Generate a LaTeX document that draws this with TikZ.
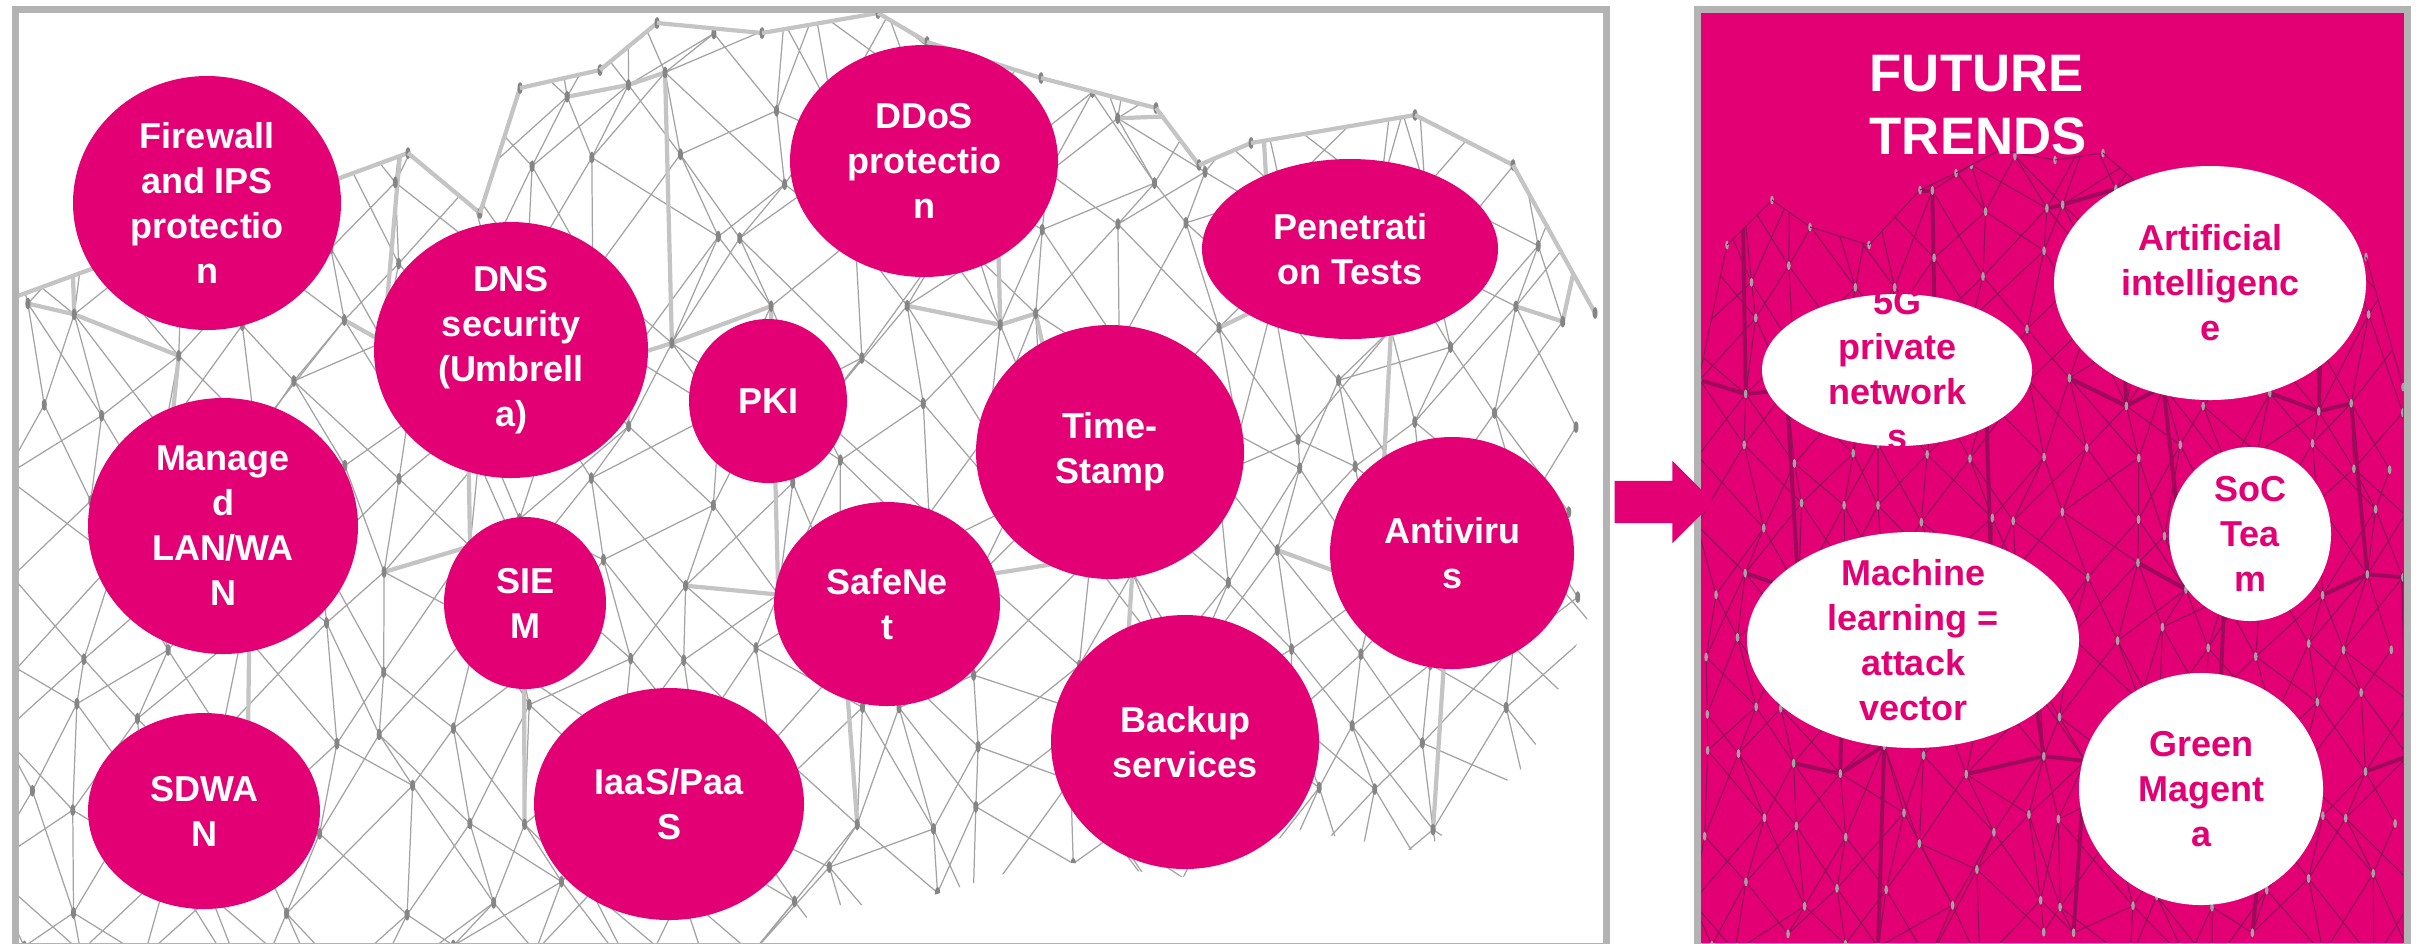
\documentclass[tikz,border=0pt]{standalone}
\usepackage{fontspec}
\setmainfont{Liberation Sans}
\usepackage{tikz}
\usepackage{xcolor}
\usetikzlibrary{shapes.geometric}
\usetikzlibrary{shapes.arrows}
\usetikzlibrary{positioning}

\definecolor{tmagenta}{HTML}{E20074}
\definecolor{panelgray}{HTML}{B3B3B3}
\definecolor{meshgray}{HTML}{A3A3A3}
\definecolor{meshwide}{HTML}{C4C4C4}
\definecolor{dotgray}{HTML}{858585}
\definecolor{meshdark}{HTML}{8A1458}
\definecolor{meshdarkwide}{HTML}{9C0A5C}

\begin{document}
\begin{tikzpicture}[x=1cm,y=-1cm,
	panelline/.style={draw=panelgray,line width=0.07cm},
	meshthin/.style={draw=meshgray,line width=0.35pt},
	meshthick/.style={draw=meshwide,line width=1.2pt},
	meshdot/.style={fill=dotgray},
	darkthin/.style={draw=meshdark,line width=0.3pt},
	darkthick/.style={draw=meshdarkwide,line width=1.1pt},
	darkdot/.style={fill=meshgray},
	bubble/.style={ellipse,fill=tmagenta,inner sep=0pt},
	wbubble/.style={ellipse,fill=white,inner sep=0pt},
	bubtext/.style={text=white,align=center,inner sep=0pt,font=\bfseries\fontsize{10.24pt}{12.8pt}\selectfont},
	wbubtext/.style={bubtext,text=tmagenta}]
		
		% page size and background
		\useasboundingbox (0,0) rectangle (24.2,9.43);
		\fill[white] (0,0) rectangle (24.2,9.43);
		
		% draw background for the trends panel
		\fill[tmagenta] (16.97,0.09) rectangle (24.07,9.46);
		
		\pgfmathsetseed{2024}
		
		% draw mesh in left panel
		\foreach \i in {0,...,21}
		{
			\foreach \j in {0,...,12}
			{
				\pgfmathsetmacro\px{0.15+0.75*\i+0.3*rand}
				\pgfmathsetmacro\py{0.10+0.80*\j+0.3*rand}
				\coordinate (l-\i-\j) at (\px,\py);
			}
		}
		\foreach \x/\y [count=\n] in {0.15/2.97,4.08/1.53,4.80/2.13,5.20/0.88,6.00/0.70,6.57/0.23,7.62/0.33,8.78/0.13,9.27/0.42,10.41/0.78,11.56/1.08,11.99/1.65,12.51/1.43,14.15/1.15,15.13/1.65,15.95/3.13}
		{
			\coordinate (ltop-\n) at (\x,\y);
		}
		\begin{scope}
			\clip (0.15,2.97) -- (4.08,1.53) -- (4.80,2.13) -- (5.20,0.88) -- (6.00,0.70) -- (6.57,0.23) -- (7.62,0.33) -- (8.78,0.13) -- (9.27,0.42) -- (10.41,0.78) -- (11.56,1.08) -- (11.99,1.65) -- (12.51,1.43) -- (14.15,1.15) -- (15.13,1.65) -- (15.95,3.13) -- (15.95,6.00) -- (15.28,7.63) -- (14.22,8.52) -- (13.00,8.30) -- (11.83,8.77) -- (10.50,8.60) -- (9.00,9.05) -- (8.10,9.05) -- (8.00,9.43) -- (0.15,9.43) -- cycle;
			\foreach \i [count=\k] in {0,...,20}
			{
				\foreach \j [count=\l] in {0,...,11}
				{
					\draw[meshthin] (l-\i-\j) -- (l-\i-\l) (l-\i-\j) -- (l-\k-\l) (l-\k-\j) -- (l-\i-\l);
				}
			}
			\foreach \i [count=\k] in {0,...,20}
			{
				\foreach \j in {1,4,7}
				{
					\pgfmathtruncatemacro\t{mod(\i+\j,4)}
					\pgfmathtruncatemacro\jj{\j+3}
					\ifnum\t<2
						\draw[meshthick] (l-\i-\j) -- (l-\k-\j);
					\fi
					\ifnum\t=1
						\draw[meshthick] (l-\k-\j) -- (l-\k-\jj);
					\fi
				}
			}
			\foreach \i in {0,...,21}
			{
				\foreach \j in {0,...,12}
				{
					\fill[meshdot] (l-\i-\j) ellipse [x radius=0.025,y radius=0.06];
				}
			}
		\end{scope}
		\foreach \n [count=\m from 2] in {1,...,15}
		{
			\draw[meshthick] (ltop-\n) -- (ltop-\m);
			\fill[meshdot] (ltop-\m) ellipse [x radius=0.025,y radius=0.06];
		}
		
		% draw mesh in trends panel
		\foreach \i in {0,...,15}
		{
			\foreach \j in {0,...,13}
			{
				\pgfmathsetmacro\px{17.00+0.47*\i+0.18*rand}
				\pgfmathsetmacro\py{1.45+0.62*\j+0.2*rand}
				\coordinate (r-\i-\j) at (\px,\py);
			}
		}
		\foreach \x/\y [count=\n] in {17.00/3.73,17.27/2.45,17.72/2.00,18.10/2.27,18.69/2.45,19.20/1.90,19.56/1.73,20.00/1.50,20.55/1.60,21.03/1.53,21.80/2.20,23.66/2.57,24.03/3.87}
		{
			\coordinate (rtop-\n) at (\x,\y);
		}
		\begin{scope}
			\clip (17.00,3.73) -- (17.27,2.45) -- (17.72,2.00) -- (18.10,2.27) -- (18.69,2.45) -- (19.20,1.90) -- (19.56,1.73) -- (20.00,1.50) -- (20.55,1.60) -- (21.03,1.53) -- (21.80,2.20) -- (23.66,2.57) -- (24.03,3.87) -- (24.03,9.43) -- (17.00,9.43) -- cycle;
			\foreach \i [count=\k] in {0,...,14}
			{
				\foreach \j [count=\l] in {0,...,12}
				{
					\draw[darkthin] (r-\i-\j) -- (r-\i-\l) (r-\i-\j) -- (r-\k-\l) (r-\k-\j) -- (r-\i-\l);
				}
			}
			\foreach \i [count=\k] in {0,...,14}
			{
				\foreach \j in {1,4,7,10}
				{
					\pgfmathtruncatemacro\t{mod(\i+\j,4)}
					\pgfmathtruncatemacro\jj{\j+3}
					\ifnum\t<2
						\draw[darkthick] (r-\i-\j) -- (r-\k-\j);
					\fi
					\ifnum\t=1
						\draw[darkthick] (r-\k-\j) -- (r-\k-\jj);
					\fi
				}
			}
			\foreach \i in {0,...,15}
			{
				\foreach \j in {0,...,13}
				{
					\fill[darkdot] (r-\i-\j) ellipse [x radius=0.018,y radius=0.045];
				}
			}
		\end{scope}
		\foreach \n [count=\m from 2] in {1,...,12}
		{
			\draw[darkthin] (rtop-\n) -- (rtop-\m);
			\fill[darkdot] (rtop-\m) ellipse [x radius=0.018,y radius=0.045];
		}
		
		% draw panel frames
		\draw[panelline] (0.155,0.09) rectangle (16.06,9.46);
		\draw[panelline] (16.97,0.09) rectangle (24.07,9.46);
		
		% draw services in left panel
		\node(fw) at (2.07,2.03) [bubble,minimum width=2.68cm,minimum height=2.54cm] {};
		\node(ddos) at (9.24,1.61) [bubble,minimum width=2.68cm,minimum height=2.32cm] {};
		\node(pentest) at (13.50,2.49) [bubble,minimum width=2.96cm,minimum height=1.80cm] {};
		\node(dns) at (5.11,3.50) [bubble,minimum width=2.74cm,minimum height=2.56cm] {};
		\node(pki) at (7.68,4.01) [bubble,minimum width=1.58cm,minimum height=1.64cm] {};
		\node(tstamp) at (11.10,4.52) [bubble,minimum width=2.68cm,minimum height=2.54cm] {};
		\node(lanwan) at (2.23,5.26) [bubble,minimum width=2.70cm,minimum height=2.56cm] {};
		\node(siem) at (5.25,6.03) [bubble,minimum width=1.62cm,minimum height=1.72cm] {};
		\node(safenet) at (8.87,6.04) [bubble,minimum width=2.26cm,minimum height=2.04cm] {};
		\node(antivirus) at (14.52,5.53) [bubble,minimum width=2.44cm,minimum height=2.32cm] {};
		\node(backup) at (11.85,7.42) [bubble,minimum width=2.68cm,minimum height=2.54cm] {};
		\node(sdwan) at (2.04,8.11) [bubble,minimum width=2.32cm,minimum height=1.96cm] {};
		\node(iaas) at (6.69,8.04) [bubble,minimum width=2.70cm,minimum height=2.32cm] {};
		
		% labels of the services
		\node(fw-t) at (fw) [bubtext] {Firewall\\and IPS\\protectio\\n};
		\node(ddos-t) at (ddos) [bubtext] {DDoS\\protectio\\n};
		\node(pentest-t) at (pentest) [bubtext] {Penetrati\\on Tests};
		\node(dns-t) at (dns) [bubtext] {DNS\\security\\(Umbrell\\a)};
		\node(pki-t) at (pki) [bubtext] {PKI};
		\node(tstamp-t) at (tstamp) [bubtext] {Time-\\Stamp};
		\node(lanwan-t) at (lanwan) [bubtext] {Manage\\d\\LAN/WA\\N};
		\node(siem-t) at (siem) [bubtext] {SIE\\M};
		\node(safenet-t) at (safenet) [bubtext] {SafeNe\\t};
		\node(antivirus-t) at (antivirus) [bubtext] {Antiviru\\s};
		\node(backup-t) at (backup) [bubtext] {Backup\\services};
		\node(sdwan-t) at (sdwan) [bubtext] {SDWA\\N};
		\node(iaas-t) at (iaas) [bubtext] {IaaS/Paa\\S};
		
		% draw arrow between the panels
		\node(trendarrow) at (16.535,5.02) [single arrow,fill=tmagenta,inner sep=0.205cm,minimum height=0.99cm,single arrow head extend=0.2cm,single arrow tip angle=90] {};
		
		% draw title and trends in right panel
		\node(trendtitle) at (18.69,0.55) [anchor=north west,inner sep=0pt,align=left,text=white,font=\bfseries\fontsize{15pt}{17.9pt}\selectfont] {FUTURE\\TRENDS};
		
		\node(ai) at (22.10,2.83) [wbubble,minimum width=3.12cm,minimum height=2.34cm] {};
		\node(net5g) at (18.97,3.70) [wbubble,minimum width=2.70cm,minimum height=1.52cm] {};
		\node(soc) at (22.50,5.34) [wbubble,minimum width=1.62cm,minimum height=1.74cm] {};
		\node(ml) at (19.13,6.40) [wbubble,minimum width=3.32cm,minimum height=2.16cm] {};
		\node(green) at (22.01,7.89) [wbubble,minimum width=2.44cm,minimum height=2.32cm] {};
		
		\node(ai-t) at (ai) [wbubtext] {Artificial\\intelligenc\\e};
		\node(net5g-t) at (net5g) [wbubtext] {5G\\private\\network\\s};
		\node(soc-t) at (soc) [wbubtext] {SoC\\Tea\\m};
		\node(ml-t) at (ml) [wbubtext] {Machine\\learning =\\attack\\vector};
		\node(green-t) at (green) [wbubtext] {Green\\Magent\\a};
\end{tikzpicture}
\end{document}
